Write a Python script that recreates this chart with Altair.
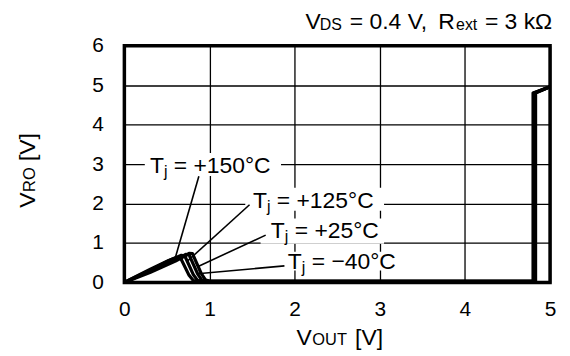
import altair as alt
import pandas as pd

# ---------------- data ----------------
temps = ["Tj = -40°C", "Tj = +25°C", "Tj = +125°C", "Tj = +150°C"]

vout_m40 = [0.00, 0.30, 0.60, 0.72, 0.76, 0.80, 0.90, 0.95, 1.00, 4.83, 4.83, 5.00]
vro_m40  = [0.00, 0.25, 0.54, 0.68, 0.74, 0.73, 0.24, 0.07, 0.03, 0.03, 4.80, 4.96]

vout_p25 = [0.00, 0.30, 0.60, 0.68, 0.72, 0.76, 0.86, 0.91, 1.00, 4.82, 4.82, 5.00]
vro_p25  = [0.00, 0.28, 0.58, 0.66, 0.71, 0.70, 0.22, 0.06, 0.03, 0.03, 4.80, 4.96]

vout_p125 = [0.00, 0.30, 0.56, 0.63, 0.67, 0.71, 0.81, 0.86, 1.00, 4.81, 4.81, 5.00]
vro_p125  = [0.00, 0.31, 0.59, 0.65, 0.69, 0.67, 0.20, 0.05, 0.03, 0.03, 4.80, 4.96]

vout_p150 = [0.00, 0.30, 0.52, 0.58, 0.62, 0.66, 0.76, 0.81, 1.00, 4.80, 4.80, 5.00]
vro_p150  = [0.00, 0.33, 0.56, 0.61, 0.64, 0.62, 0.18, 0.05, 0.03, 0.03, 4.80, 4.96]

x_ticks = [0, 1, 2, 3, 4, 5]
y_ticks = [0, 1, 2, 3, 4, 5, 6]

# annotation labels: (text after the subscript, left x, centre y)
label_rest = ["= −40°C", "= +25°C", "= +125°C", "= +150°C"]
label_x = [1.92, 1.72, 1.51, 0.30]
label_y = [0.54, 1.32, 2.09, 2.98]
# white boxes behind labels (data units)
box_x1 = [1.85, 1.60, 1.42, 0.24]
box_x2 = [3.25, 3.05, 3.05, 1.84]
box_y1 = [0.30, 0.98, 1.82, 2.70]
box_y2 = [0.78, 1.62, 2.40, 3.28]
# leader lines (from label to curve)
lead_x1 = [1.88, 1.66, 1.47, 0.875]
lead_y1 = [0.42, 1.20, 1.97, 2.69]
lead_x2 = [0.86, 0.86, 0.74, 0.60]
lead_y2 = [0.22, 0.40, 0.54, 0.64]

# ---------------- tables ----------------
rows = []
for name, xs_, ys_ in [(temps[0], vout_m40, vro_m40), (temps[1], vout_p25, vro_p25),
                       (temps[2], vout_p125, vro_p125), (temps[3], vout_p150, vro_p150)]:
    for i, (a, b) in enumerate(zip(xs_, ys_)):
        rows.append({"series": name, "order": i, "vout": a, "vro": b})
curves = pd.DataFrame(rows)
labels = pd.DataFrame({"x": label_x, "y": label_y, "rest": label_rest,
                       "T": ["T"] * 4, "j": ["j"] * 4,
                       "bx1": box_x1, "bx2": box_x2, "by1": box_y1, "by2": box_y2,
                       "lx1": lead_x1, "ly1": lead_y1, "lx2": lead_x2, "ly2": lead_y2})

FONT = "Liberation Sans"
FT = 21   # tick labels
F = 23    # text
S = 16    # subscripts

W, H = 428, 238

xs = alt.Scale(domain=[0, 5], nice=False, zero=False)
ys = alt.Scale(domain=[0, 6], nice=False, zero=False)

x_axis = alt.Axis(values=x_ticks, format="d", title=None, grid=True, domain=False,
                  ticks=False, labelFontSize=FT, labelFont=FONT, labelColor="black",
                  labelPadding=16, gridColor="black", gridWidth=1.3, gridOpacity=1,
                  labelFlush=False)
y_axis = alt.Axis(values=y_ticks, format="d", title=None, grid=True, domain=False,
                  ticks=False, labelFontSize=FT, labelFont=FONT, labelColor="black",
                  labelPadding=21, gridColor="black", gridWidth=1.3, gridOpacity=1,
                  labelFlush=False)


def X(f):
    return alt.X(f, scale=xs, axis=x_axis, title=None)


def Y(f):
    return alt.Y(f, scale=ys, axis=y_axis, title=None)


lines = alt.Chart(curves).mark_line(color="black", strokeWidth=3.2, strokeJoin="round",
                                    strokeCap="butt", clip=True).encode(
    x=X("vout:Q"), y=Y("vro:Q"), detail="series:N", order="order:Q")

boxes = alt.Chart(labels).mark_rect(color="white").encode(
    x=X("bx1:Q"), x2="bx2:Q", y=Y("by1:Q"), y2="by2:Q")

leaders = alt.Chart(labels).mark_rule(color="black", strokeWidth=1.6).encode(
    x=X("lx1:Q"), y=Y("ly1:Q"), x2="lx2:Q", y2="ly2:Q")

T_W = 611 * F / 1000.0
J_W = 222 * S / 1000.0
SP_W = 278 * F / 1000.0

tT = alt.Chart(labels).mark_text(align="left", baseline="alphabetic", font=FONT, fontSize=F,
                                 dy=8, color="black").encode(
    x=X("x:Q"), y=Y("y:Q"), text="T:N")
tj = alt.Chart(labels).mark_text(align="left", baseline="alphabetic", font=FONT, fontSize=S,
                                 dx=T_W, dy=12, color="black").encode(
    x=X("x:Q"), y=Y("y:Q"), text="j:N")
tr = alt.Chart(labels).mark_text(align="left", baseline="alphabetic", font=FONT, fontSize=F,
                                 dx=T_W + J_W + SP_W, dy=8, color="black").encode(
    x=X("x:Q"), y=Y("y:Q"), text="rest:N")


def piece(txt, size, x, y, angle=0, dx=0, dy=0):
    return alt.Chart(pd.DataFrame({"t": [txt]})).mark_text(
        align="left", baseline="alphabetic", font=FONT, fontSize=size, color="black",
        angle=angle, dx=dx, dy=dy).encode(x=alt.value(x), y=alt.value(y), text="t:N")


# top title: V_DS = 0.4 V, R_ext = 3 kΩ
FTI = 23
TB = -16.5
title_layers = [
    piece("V", FTI, 182, TB),
    piece("DS", S, 196.5, TB + 1),
    piece("= 0.4 V,", FTI, 226.7, TB),
    piece("R", FTI, 315.5, TB),
    piece("ext", S, 333.5, TB + 1),
    piece("= 3 kΩ", FTI, 362.5, TB),
]
# x title: V_OUT [V]
xtitle_layers = [
    piece("V", F, 173, 301),
    piece("OUT", 16.5, 189, 301),
    piece("[V]", F, 232, 301),
]
# y title: V_RO [V] (rotated)
ytitle_layers = [
    piece("V", F, -90, 163, angle=270),
    piece("RO", 16.5, -90, 163, angle=270, dx=16),
    piece("[V]", F, -90, 163, angle=270, dx=47),
]

chart = alt.layer(lines, boxes, leaders, tT, tj, tr, *title_layers, *xtitle_layers,
                  *ytitle_layers).properties(
    width=W, height=H, background="white",
    autosize=alt.AutoSizeParams(type="none"),
    padding={"left": 117, "top": 37, "right": 12, "bottom": 72},
).configure_view(stroke="black", strokeWidth=3.5)

chart.save("out.html", embed_options={"renderer": "svg", "actions": False})
